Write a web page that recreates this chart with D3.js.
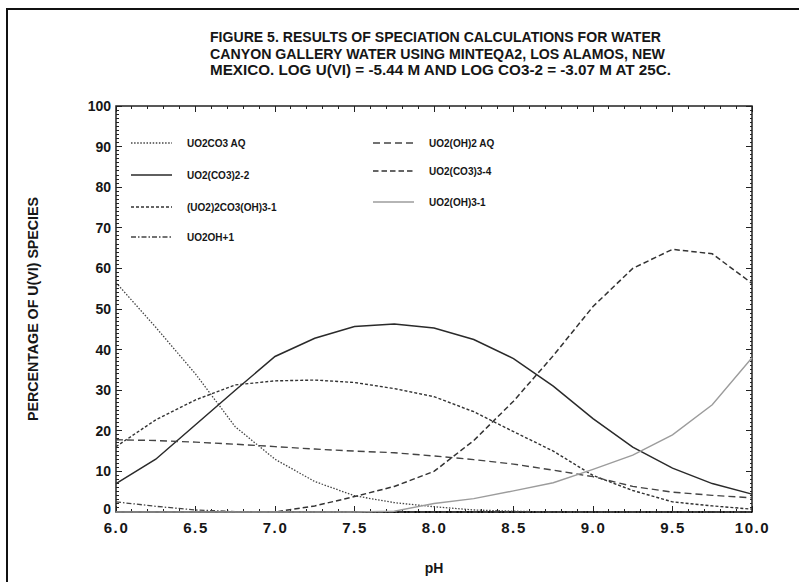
<!DOCTYPE html>
<html lang="en">
<head>
    <meta charset="UTF-8">
    <title>Figure 5 - Speciation of U(VI)</title>
    <script src="https://d3js.org/d3.v7.min.js"></script>
    <style>
        body {
            margin: 0;
            background-color: #ffffff;
        }
        svg text {
            font-family: Arial, 'Liberation Sans', Helvetica, sans-serif;
            font-weight: bold;
            fill: #161616;
        }
        .axis path, .axis line {
            stroke: #222;
            shape-rendering: crispEdges;
        }
        .series {
            fill: none;
        }
    </style>
</head>
<body>
<svg id="chart" width="799" height="582"></svg>
<script>
    // pH grid of the calculation
    const ph = [6.0, 6.25, 6.5, 6.75, 7.0, 7.25, 7.5, 7.75, 8.0, 8.25, 8.5, 8.75, 9.0, 9.25, 9.5, 9.75, 10.0];

    // percentage of U(VI) species
    const uo2co3Aq    = [56.5, 45.5, 34.0, 21.0, 13.0, 7.5, 4.0, 2.3, 1.3, 0.5, 0.2, 0, 0, 0, 0, 0, 0];
    const uo2co32     = [7.0, 13.0, 21.5, 30.0, 38.3, 42.8, 45.7, 46.3, 45.3, 42.5, 37.8, 31.0, 23.0, 16.0, 10.8, 7.0, 4.4];
    const uo22co3oh3  = [16.1, 22.7, 27.6, 31.3, 32.3, 32.5, 31.9, 30.4, 28.4, 24.7, 19.8, 15.0, 9.0, 5.3, 2.5, 1.5, 0.7];
    const uo2oh       = [2.5, 1.4, 0.5, 0.1, 0, 0, 0, 0, 0, 0, 0, 0, 0, 0, 0, 0, 0];
    const uo2oh2Aq    = [17.8, 17.6, 17.2, 16.7, 16.1, 15.5, 15.0, 14.6, 13.8, 12.9, 11.8, 10.3, 8.7, 6.3, 4.9, 4.1, 3.5];
    const uo2co33     = [0, 0, 0, 0, 0, 1.5, 3.8, 6.3, 10.0, 17.6, 27.3, 38.5, 50.6, 60.0, 64.7, 63.6, 56.3];
    const uo2oh3      = [0, 0, 0, 0, 0, 0, 0, 0.2, 2.1, 3.3, 5.2, 7.2, 10.5, 14.0, 19.0, 26.4, 38.0];

    const xTicks = [6.0, 6.5, 7.0, 7.5, 8.0, 8.5, 9.0, 9.5, 10.0];
    const yTicks = [0, 10, 20, 30, 40, 50, 60, 70, 80, 90, 100];

    const titleLines = [
        "FIGURE 5. RESULTS OF SPECIATION CALCULATIONS FOR WATER",
        "CANYON GALLERY WATER USING MINTEQA2, LOS ALAMOS, NEW",
        "MEXICO. LOG U(VI) = -5.44 M AND LOG CO3-2 = -3.07 M AT 25C."
    ];

    // series styles (legend order: left column then right column)
    const series = [
        { name: "UO2CO3 AQ",         values: uo2co3Aq,   color: "#444", width: 1.3, dash: "1.5,1.6", col: 0, row: 0 },
        { name: "UO2(CO3)2-2",       values: uo2co32,    color: "#2a2a2a", width: 1.5, dash: null,   col: 0, row: 1 },
        { name: "(UO2)2CO3(OH)3-1",  values: uo22co3oh3, color: "#333", width: 1.4, dash: "3,2",     col: 0, row: 2 },
        { name: "UO2OH+1",           values: uo2oh,      color: "#444", width: 1.3, dash: "5,2,1.5,2", col: 0, row: 3 },
        { name: "UO2(OH)2 AQ",       values: uo2oh2Aq,   color: "#444", width: 1.4, dash: "7,4",     col: 1, row: 0 },
        { name: "UO2(CO3)3-4",       values: uo2co33,    color: "#333", width: 1.5, dash: "5.5,3",   col: 1, row: 1 },
        { name: "UO2(OH)3-1",        values: uo2oh3,     color: "#9c9c9c", width: 1.4, dash: null,   col: 1, row: 2 }
    ];

    const svg = d3.select("#chart");
    const margin = { top: 106, right: 47, bottom: 70, left: 116 };
    const width = 799, height = 582;

    const x = d3.scaleLinear().domain([6, 10]).range([margin.left, width - margin.right]);
    const y = d3.scaleLinear().domain([0, 100]).range([height - margin.bottom, margin.top]);

    // outer frame (left and top edges only show)
    svg.append("line").attr("x1", 7).attr("x2", 7).attr("y1", 9).attr("y2", height)
        .attr("stroke", "#111").attr("stroke-width", 2);
    svg.append("line").attr("x1", 6).attr("x2", width).attr("y1", 9).attr("y2", 9)
        .attr("stroke", "#111").attr("stroke-width", 2);

    // title
    const titleLengths = [451, 455, 461];
    titleLines.forEach((t, i) => {
        svg.append("text")
            .attr("x", 210)
            .attr("y", 42 + i * 16.5)
            .attr("textLength", titleLengths[i])
            .attr("lengthAdjust", "spacingAndGlyphs")
            .style("font-size", "14px")
            .text(t);
    });

    // minor ticks every 1% and 0.1 pH, drawn inward on all four sides
    const minorY = d3.range(0, 101, 1);
    const minorX = d3.range(60, 101, 1).map(d => d / 10);
    const ticks = svg.append("g").attr("class", "axis");

    ticks.selectAll(".ly").data(minorY).enter().append("line")
        .attr("x1", x(6)).attr("x2", d => x(6) + (d % 10 === 0 ? 6 : 2.5))
        .attr("y1", d => y(d)).attr("y2", d => y(d));
    ticks.selectAll(".ry").data(minorY).enter().append("line")
        .attr("x1", x(10)).attr("x2", d => x(10) - (d % 10 === 0 ? 6 : 2.5))
        .attr("y1", d => y(d)).attr("y2", d => y(d));
    ticks.selectAll(".tx").data(minorX).enter().append("line")
        .attr("x1", d => x(d)).attr("x2", d => x(d))
        .attr("y1", y(100)).attr("y2", (d, i) => y(100) + (i % 5 === 0 ? 6 : 3));
    ticks.selectAll(".bx").data(minorX).enter().append("line")
        .attr("x1", d => x(d)).attr("x2", d => x(d))
        .attr("y1", y(0)).attr("y2", (d, i) => y(0) - (i % 5 === 0 ? 6 : 3));

    // plot frame
    svg.append("rect")
        .attr("x", x(6)).attr("y", y(100))
        .attr("width", x(10) - x(6)).attr("height", y(0) - y(100))
        .attr("fill", "none").attr("stroke", "#222").attr("stroke-width", 1.5);
    svg.append("line")
        .attr("x1", x(6)).attr("x2", x(10)).attr("y1", y(0)).attr("y2", y(0))
        .attr("stroke", "#111").attr("stroke-width", 2.2);

    // tick labels
    const xAxis = d3.axisBottom(x).tickValues(xTicks).tickSize(0).tickPadding(0)
        .tickFormat(d3.format(".1f"));
    const gx = svg.append("g")
        .attr("transform", `translate(0, ${y(0)})`)
        .call(xAxis);
    gx.select(".domain").remove();
    gx.selectAll("text")
        .attr("y", 21)
        .attr("dy", 0)
        .style("font-size", "15px")
        .style("letter-spacing", "1.6px")
        .style("font-family", "Arial, 'Liberation Sans', sans-serif")
        .style("font-weight", "bold")
        .attr("fill", "#161616");

    const yAxis = d3.axisLeft(y).tickValues(yTicks).tickSize(0).tickPadding(5);
    const gy = svg.append("g")
        .attr("transform", `translate(${x(6)}, 0)`)
        .call(yAxis);
    gy.select(".domain").remove();
    gy.selectAll("text")
        .style("font-size", "14px")
        .style("font-family", "Arial, 'Liberation Sans', sans-serif")
        .style("font-weight", "bold")
        .attr("fill", "#161616");
    // the "0" label sits just above the x labels, as in the original
    gy.selectAll(".tick").filter(d => d === 0).select("text").attr("dy", "0.1em");

    // axis titles
    svg.append("text")
        .attr("x", (x(6) + x(10)) / 2)
        .attr("y", 573)
        .attr("text-anchor", "middle")
        .style("font-size", "14px")
        .text("pH");

    svg.append("text")
        .attr("transform", `translate(38, ${(y(0) + y(100)) / 2}) rotate(-90)`)
        .attr("text-anchor", "middle")
        .attr("textLength", 224)
        .attr("lengthAdjust", "spacingAndGlyphs")
        .style("font-size", "14px")
        .text("PERCENTAGE OF U(VI) SPECIES");

    // curves
    const line = d3.line()
        .x((d, i) => x(ph[i]))
        .y(d => y(d));

    svg.selectAll(".series")
        .data(series)
        .enter()
        .append("path")
        .attr("class", "series")
        .attr("d", d => line(d.values))
        .attr("stroke", d => d.color)
        .attr("stroke-width", d => d.width)
        .attr("stroke-dasharray", d => d.dash);

    // legend
    const legendCols = [{ lx: 131, tx: 187 }, { lx: 373, tx: 429 }];
    const legendRowsY = [[143, 175, 207, 237], [143, 171, 202]];
    const legend = svg.append("g").attr("class", "legend");

    series.forEach(s => {
        const c = legendCols[s.col];
        const ly = legendRowsY[s.col][s.row];
        legend.append("line")
            .attr("x1", c.lx).attr("x2", c.lx + 41)
            .attr("y1", ly).attr("y2", ly)
            .attr("stroke", s.color)
            .attr("stroke-width", s.width)
            .attr("stroke-dasharray", s.dash);
        legend.append("text")
            .attr("x", c.tx)
            .attr("y", ly + 3.5)
            .style("font-size", "10px")
            .text(s.name);
    });
</script>
</body>
</html>
